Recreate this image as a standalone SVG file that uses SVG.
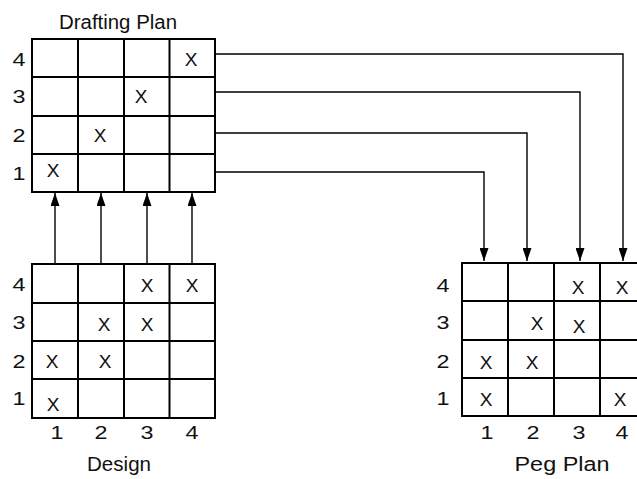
<svg xmlns="http://www.w3.org/2000/svg" width="637" height="479" viewBox="0 0 637 479">
  <style>
    .grid { fill: #ffffff; stroke: #000000; stroke-width: 2; }
    .gl { stroke: #000000; stroke-width: 2; fill: none; }
    .t { font-family: "Liberation Sans", Arial, sans-serif; font-size: 19px; fill: #111111; text-anchor: middle; }
    .title { font-family: "Liberation Sans", Arial, sans-serif; font-size: 19.5px; fill: #111111; text-anchor: middle; }
    .conn { stroke: #000000; stroke-width: 1.4; fill: none; }
  </style>
  <defs>
    <marker id="arrow" markerUnits="userSpaceOnUse" markerWidth="13" markerHeight="9" refX="13" refY="4.5" orient="auto">
      <path d="M0,0 L13,4.5 L0,9 z" fill="#000000"/>
    </marker>
  </defs>

  <rect width="637" height="479" fill="#ffffff"/>

  <!-- Drafting plan grid -->
  <g id="drafting-plan">
    <rect class="grid" x="32" y="39" width="183" height="153"/>
    <path class="gl" d="M78,39 V192 M124,39 V192 M169.5,39 V192 M32,77 H215 M32,116 H215 M32,154 H215"/>
    <text class="title" x="118" y="29" textLength="118" lengthAdjust="spacingAndGlyphs">Drafting Plan</text>
    <text class="t" x="19" y="66" textLength="13" lengthAdjust="spacingAndGlyphs">4</text>
    <text class="t" x="19" y="103" textLength="13" lengthAdjust="spacingAndGlyphs">3</text>
    <text class="t" x="19" y="142" textLength="13" lengthAdjust="spacingAndGlyphs">2</text>
    <text class="t" x="19" y="180" textLength="13" lengthAdjust="spacingAndGlyphs">1</text>
    <text class="t" x="191" y="66">X</text>
    <text class="t" x="141" y="103">X</text>
    <text class="t" x="100" y="142">X</text>
    <text class="t" x="53" y="177">X</text>
  </g>

  <!-- Design grid -->
  <g id="design">
    <rect class="grid" x="32" y="264" width="183" height="154"/>
    <path class="gl" d="M78,264 V418 M124,264 V418 M169.5,264 V418 M32,303 H215 M32,341 H215 M32,379 H215"/>
    <text class="t" x="19" y="291" textLength="13" lengthAdjust="spacingAndGlyphs">4</text>
    <text class="t" x="19" y="329" textLength="13" lengthAdjust="spacingAndGlyphs">3</text>
    <text class="t" x="19" y="368" textLength="13" lengthAdjust="spacingAndGlyphs">2</text>
    <text class="t" x="19" y="405" textLength="13" lengthAdjust="spacingAndGlyphs">1</text>
    <text class="t" x="147" y="292">X</text>
    <text class="t" x="192" y="292">X</text>
    <text class="t" x="104" y="331">X</text>
    <text class="t" x="147" y="331">X</text>
    <text class="t" x="52" y="368">X</text>
    <text class="t" x="105" y="368">X</text>
    <text class="t" x="53" y="411">X</text>
    <text class="t" x="57" y="439" textLength="13" lengthAdjust="spacingAndGlyphs">1</text>
    <text class="t" x="101" y="439" textLength="13" lengthAdjust="spacingAndGlyphs">2</text>
    <text class="t" x="147" y="439" textLength="13" lengthAdjust="spacingAndGlyphs">3</text>
    <text class="t" x="192" y="439" textLength="13" lengthAdjust="spacingAndGlyphs">4</text>
    <text class="title" x="119" y="471" textLength="64" lengthAdjust="spacingAndGlyphs">Design</text>
  </g>

  <!-- Peg plan grid -->
  <g id="peg-plan">
    <rect class="grid" x="462" y="263" width="184" height="153"/>
    <path class="gl" d="M508,263 V416 M554,263 V416 M600,263 V416 M462,301 H646 M462,340 H646 M462,378 H646"/>
    <text class="t" x="443" y="292" textLength="13" lengthAdjust="spacingAndGlyphs">4</text>
    <text class="t" x="443" y="329" textLength="13" lengthAdjust="spacingAndGlyphs">3</text>
    <text class="t" x="443" y="368" textLength="13" lengthAdjust="spacingAndGlyphs">2</text>
    <text class="t" x="443" y="405" textLength="13" lengthAdjust="spacingAndGlyphs">1</text>
    <text class="t" x="578" y="294">X</text>
    <text class="t" x="622" y="294">X</text>
    <text class="t" x="537" y="330">X</text>
    <text class="t" x="579" y="333">X</text>
    <text class="t" x="486" y="369">X</text>
    <text class="t" x="532" y="369">X</text>
    <text class="t" x="486" y="406">X</text>
    <text class="t" x="620" y="406">X</text>
    <text class="t" x="487" y="439" textLength="13" lengthAdjust="spacingAndGlyphs">1</text>
    <text class="t" x="533" y="439" textLength="13" lengthAdjust="spacingAndGlyphs">2</text>
    <text class="t" x="579" y="439" textLength="13" lengthAdjust="spacingAndGlyphs">3</text>
    <text class="t" x="622" y="439" textLength="13" lengthAdjust="spacingAndGlyphs">4</text>
    <text class="title" x="562" y="471" textLength="95" lengthAdjust="spacingAndGlyphs">Peg Plan</text>
  </g>

  <!-- Connectors -->
  <g id="connectors">
    <path class="conn" d="M55,264 V193" marker-end="url(#arrow)"/>
    <path class="conn" d="M101,264 V193" marker-end="url(#arrow)"/>
    <path class="conn" d="M147,264 V193" marker-end="url(#arrow)"/>
    <path class="conn" d="M192,264 V193" marker-end="url(#arrow)"/>
    <path class="conn" d="M216,54 H623 V261" marker-end="url(#arrow)"/>
    <path class="conn" d="M216,92 H580 V261" marker-end="url(#arrow)"/>
    <path class="conn" d="M216,133 H527 V261" marker-end="url(#arrow)"/>
    <path class="conn" d="M216,172 H484 V261" marker-end="url(#arrow)"/>
  </g>
</svg>
